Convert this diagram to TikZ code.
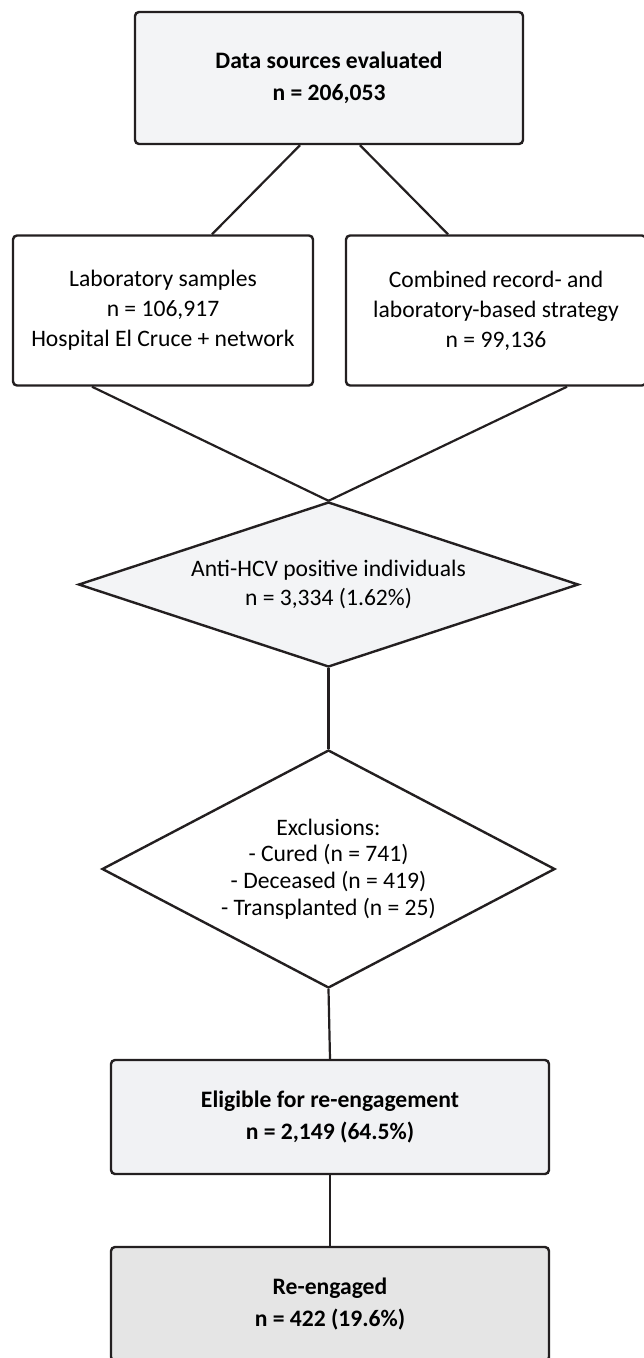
\documentclass[tikz,border=0pt]{standalone}
\usepackage{fontspec}
\setmainfont{Carlito}
\usepackage{tikz}
\usetikzlibrary{shapes.geometric}
\definecolor{edgegray}{RGB}{35,31,32}
\definecolor{paleblue}{RGB}{243,244,246}
\definecolor{palegray}{RGB}{241,242,244}
\definecolor{midgray}{RGB}{229,229,229}

\begin{document}
\begin{tikzpicture}[x=1pt,y=-1pt]
    \tikzstyle{stagebox} = [rectangle, draw=edgegray, line width=2.4pt, rounded corners=4pt, inner sep=0pt, align=center, font=\fontsize{23.6}{30}\selectfont]
    \tikzstyle{boldbox} = [stagebox, font=\fontsize{23.6}{32}\selectfont\bfseries]
    \tikzstyle{sourcebox} = [stagebox, fill=white, minimum width=300pt, minimum height=150pt]
    \tikzstyle{decide} = [diamond, draw=edgegray, line width=2.4pt, inner sep=0pt, align=center, font=\fontsize{23.6}{28.5}\selectfont]
    \tikzstyle{link} = [draw=edgegray, line width=2.2pt]
    \useasboundingbox (0,0) rectangle (643,1358);
    \node[boldbox, fill=paleblue, minimum width=388pt, minimum height=132pt] (src) at (329,78) {Data sources evaluated\\n = 206,053};
    \node[sourcebox] (lab) at (163,310.5) {Laboratory samples\\n = 106,917\\Hospital El Cruce + network};
    \node[sourcebox] (comb) at (496,310.5) {Combined record- and\\laboratory-based strategy\\n = 99,136};
    \node[decide, fill=paleblue, aspect=3.03, minimum width=500pt, minimum height=165pt] (anti) at (328.5,584.5) {Anti-HCV positive individuals\\n = 3,334 (1.62\%)};
    \node[decide, fill=white, aspect=1.9, minimum width=453pt, minimum height=238pt, font=\fontsize{23.6}{26.7}\selectfont] (excl) at (328.5,869) {Exclusions:\\- Cured (n = 741)\\- Deceased (n = 419)\\- Transplanted (n = 25)};
    \node[boldbox, fill=palegray, minimum width=438pt, minimum height=114pt] (elig) at (330,1117) {Eligible for re-engagement\\n = 2,149 (64.5\%)};
    \node[boldbox, fill=midgray, minimum width=438pt, minimum height=114pt] (reeng) at (330,1304) {Re-engaged\\n = 422 (19.6\%)};
    \draw[link] ([xshift=-29pt]src.south) -- ([xshift=49pt]lab.north);
    \draw[link] ([xshift=31pt]src.south) -- ([xshift=-48pt]comb.north);
    \draw[link] ([xshift=-71pt]lab.south) -- (anti.north);
    \draw[link] ([xshift=71pt]comb.south) -- (anti.north);
    \draw[link] (anti.south) -- (excl.north);
    \draw[link] (excl.south) -- (elig.north);
    \draw[link] (elig.south) -- (reeng.north);
\end{tikzpicture}
\end{document}
